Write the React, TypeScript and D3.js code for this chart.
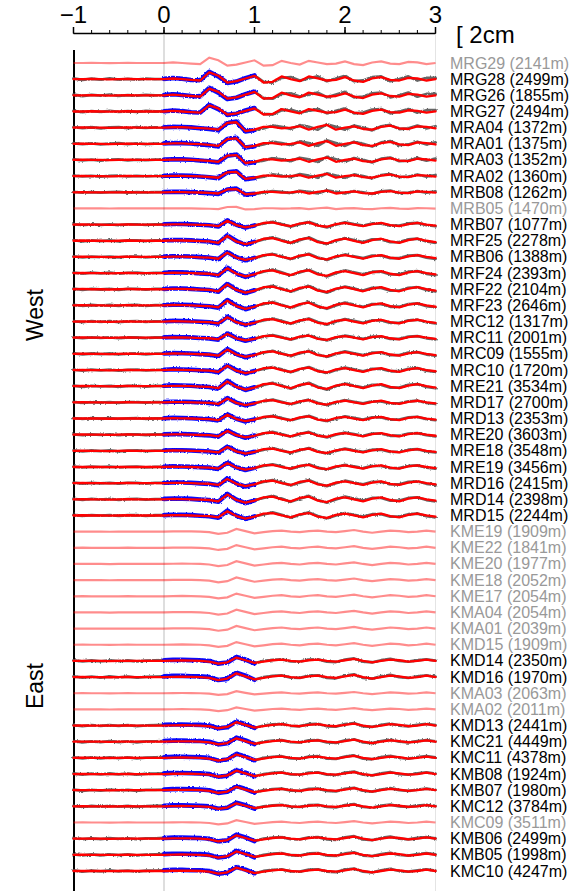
import React from "react";
import * as d3 from "d3";

// station list, top to bottom
const stations = [
  "MRG29", "MRG28", "MRG26", "MRG27", "MRA04", "MRA01", "MRA03", "MRA02", "MRB08", "MRB05",
  "MRB07", "MRF25", "MRB06", "MRF24", "MRF22", "MRF23", "MRC12", "MRC11", "MRC09", "MRC10",
  "MRE21", "MRD17", "MRD13", "MRE20", "MRE18", "MRE19", "MRD16", "MRD14", "MRD15",
  "KME19", "KME22", "KME20", "KME18", "KME17", "KMA04", "KMA01", "KMD15", "KMD14", "KMD16",
  "KMA03", "KMA02", "KMD13", "KMC21", "KMC11", "KMB08", "KMB07", "KMC12", "KMC09", "KMB06",
  "KMB05", "KMC10",
];
const distances = [
  2141, 2499, 1855, 2494, 1372, 1375, 1352, 1360, 1262, 1470,
  1077, 2278, 1388, 2393, 2104, 2646, 1317, 2001, 1555, 1720,
  3534, 2700, 2353, 3603, 3548, 3456, 2415, 2398, 2244,
  1909, 1841, 1977, 2052, 2054, 2054, 2039, 1909, 2350, 1970,
  2063, 2011, 2441, 4449, 4378, 1924, 1980, 3784, 3511, 2499,
  1998, 4247,
];
// waveform family of each station
const groups = [
  "G", "G", "G", "G", "A", "A", "A", "A", "A", "A",
  "F", "F", "F", "F", "F", "F", "F", "F", "F", "F",
  "F", "F", "F", "F", "F", "F", "F", "F", "F",
  "K", "K", "K", "K", "K", "K", "K", "K", "K", "K",
  "K", "K", "K", "K", "K", "K", "K", "K", "K", "K",
  "K", "K",
];
const amps = [
  0.8, 1.0, 1.0, 0.9, 1.0, 1.0, 0.9, 0.8, 0.6, 0.3,
  0.8, 1.0, 0.9, 1.0, 1.0, 1.0, 0.9, 0.8, 0.9, 0.9,
  1.0, 0.8, 0.8, 0.8, 0.8, 0.8, 0.9, 1.0, 0.9,
  0.8, 0.8, 0.8, 0.8, 0.8, 0.8, 0.8, 0.8, 1.0, 1.1,
  0.6, 0.6, 1.0, 1.0, 1.0, 1.0, 1.0, 0.9, 0.7, 1.0,
  1.0, 1.0,
];
// false = station not used in the inversion (drawn faded)
const used = [
  false, true, true, true, true, true, true, true, true, false,
  true, true, true, true, true, true, true, true, true, true,
  true, true, true, true, true, true, true, true, true,
  false, false, false, false, false, false, false, false, true, true,
  false, false, true, true, true, true, true, true, false, true,
  true, true,
];

// waveforms (mm), sampled every 0.1 s from -1 s to 3 s
const synG = [0, 0, 0.2, 0, -0.2, 0, 0.2, 0, 0, 0,
  0, 0.5, 0, -0.5, -1, 5, 2.5, -2.5, -1.5, 0.5, 2.5,
  -2.5, -2, 2, 0, -1.5, 2, 0.5, -1, -0.5, 1.5,
  -1, -2, 0.5, 1.5, -0.5, -1, 1, 0.5, -1, 0];
const obsG = [0.5, -0.5, 0.3, -0.3, 0.5, -0.4, 0.2, -0.3, 0.4, 0,
  0.2, 0.8, 0.3, -0.6, -0.8, 5.5, 2, -2.8, -1.8, 0.8, 2.8,
  -2, -2.5, 1, 1.5, -1, 0.5, 2, -1.5, 0.5, 2.5,
  -1.5, -1, 1.5, 2, -1.5, 0, 2, -1, 1, 1];
const synA = [0, 0.2, 0, 0, -0.2, 0, 0.2, 0, 0, 0,
  0, 0.3, 0.3, 0, -0.3, -0.8, -1.5, 3.5, 4, -2.5, -1.5,
  0.5, 0.5, -0.5, 0, 1, -1.5, 0.5, 2, -1.5, 0,
  1, -1, -1.5, 0.5, 1.5, -0.5, -1, 1, 0.5, -0.5];
const obsA = [0.4, -0.3, 0.3, -0.5, 0.2, 0.4, -0.3, 0.3, -0.2, 0.2,
  0.3, 0.6, 0.5, 0.2, -0.4, -1, -2, 3.5, 4.5, -2.8, -1.8,
  -0.5, 1.5, 0.5, -1, 1.8, 0.5, -1.5, 2.5, 0.5, -1.5,
  1.5, 0, -2, 1, 2, -1, -0.5, 1.5, -0.5, 1];
const synF = [0, 0.2, 0, 0, -0.2, 0, 0.2, 0, 0, 0,
  0, 0.3, 0.2, 0, -0.3, -0.5, -1.5, 3.5, -0.5, -2.5, -1,
  1.5, 2, 0, -1.5, 1, 2, -1, -2, 0.5, 1.5,
  0, -1.5, 0.5, 1.5, -0.5, -1.5, 0.5, 1.5, 0, -1];
const obsF = [0.4, -0.4, 0.3, -0.2, 0.3, -0.4, 0.2, 0.3, -0.3, 0.2,
  0.3, 0.6, 0.5, 0.3, -0.2, -0.6, -1.8, 4, -0.2, -2.8, -0.8,
  1, 2.5, 0.5, -1.8, 0.5, 2.5, -0.5, -2.5, 0, 2,
  0.5, -1, 1, 1, -1, -1, 1, 1.5, -0.5, -1.5];
const synK = [0, 0.1, 0, 0, -0.1, 0, 0.1, 0, 0, 0,
  0, 0.2, 0.3, 0.2, 0, -0.5, -2, -1, 2.5, 0.5, -1.5,
  -0.5, 0.5, 1, 0, -0.5, 0.5, 1, 0, -0.5, 0.5,
  1.5, 0, -1, 0, 1, 0.5, -0.5, 0, 1, 0];
const obsK = [0.4, -0.4, 0.3, -0.3, 0.4, -0.2, 0.3, -0.4, 0.2, 0.3,
  0.5, 0.8, 0.8, 0.6, 0.5, 0, -2, -1.2, 3, 1, -1.8,
  0, 0.8, 1.2, -0.3, -0.5, 1, 1.2, -0.5, -0.8, 1,
  1.8, -0.5, -1, 0.5, 1.5, 0, -0.5, 0.5, 1.2, 0.3];

const synth: Record<string, number[]> = { G: synG, A: synA, F: synF, K: synK };
const observed: Record<string, number[]> = { G: obsG, A: obsA, F: obsF, K: obsK };

const timeTicks = [-1, 0, 1, 2, 3];

export default function App() {
  const width = 582;
  const height = 891;
  const font = "'Liberation Sans', Arial, sans-serif";

  const times = d3.range(41).map((i) => -1 + i * 0.1);
  const x = d3.scaleLinear().domain([-1, 3]).range([73.5, 435.5]);
  const y = d3.scalePoint<string>().domain(stations).range([63, 871]);
  const amp = d3.scaleLinear().domain([0, 20]).range([0, 27]);
  const minor = d3.range(-1, 3.001, 0.2);

  const trace = (vals: number[], a: number, y0: number, from = 0, to = vals.length - 1) =>
    d3.line<number>()
      .x((_, i) => x(times[i + from]))
      .y((v) => y0 - amp(v * a))
      .curve(d3.curveLinear)(vals.slice(from, to + 1)) || "";

  return (
    <svg width={width} height={height} style={{ display: "block", position: "absolute", left: 0, top: 0, background: "#fff" }}>
      <defs>
        {/* jitter for the recorded (noisy) traces */}
        <filter id="noisy" x="-5%" y="-50%" width="110%" height="200%">
          <feTurbulence type="fractalNoise" baseFrequency="0.7 0.5" numOctaves={2} seed={3} result="n" />
          <feDisplacementMap in="SourceGraphic" in2="n" scale={2.6} xChannelSelector="R" yChannelSelector="G" result="d" />
          <feGaussianBlur in="d" stdDeviation={0.35} />
        </filter>
      </defs>

      {/* time axis */}
      <g fontFamily={font}>
        <line x1={x(-1)} x2={x(3)} y1={33.5} y2={33.5} stroke="#000" strokeWidth={1.5} />
        {minor.map((t, i) => (
          <line key={"m" + i} x1={x(t)} x2={x(t)} y1={33.5} y2={30} stroke="#000" strokeWidth={1} />
        ))}
        {timeTicks.map((t) => (
          <g key={t}>
            <line x1={x(t)} x2={x(t)} y1={33.5} y2={27} stroke="#000" strokeWidth={1.5} />
            <text x={x(t)} y={23} textAnchor="middle" fontSize={24}>
              {t < 0 ? "\u2212" + Math.abs(t) : t}
            </text>
          </g>
        ))}
        <text x={456} y={43} fontSize={24}>[ 2cm</text>
      </g>

      {/* frame lines */}
      <line x1={x(0)} x2={x(0)} y1={35} y2={height} stroke="#c8c8c8" strokeWidth={1.2} />
      <line x1={x(3)} x2={x(3)} y1={35} y2={height} stroke="#e4e4e4" strokeWidth={1} />
      <line x1={74} x2={74} y1={50} y2={height} stroke="#000" strokeWidth={2} />

      {/* waveforms */}
      {stations.map((s, k) => {
        const y0 = y(s)!;
        const syn = synth[groups[k]];
        const obs = observed[groups[k]];
        const a = amps[k];
        if (!used[k]) {
          return (
            <path key={s} d={trace(syn, a, y0)} fill="none" stroke="#ff0000" strokeOpacity={0.45} strokeWidth={2.2} />
          );
        }
        return (
          <g key={s} fill="none" strokeLinejoin="round" strokeLinecap="round">
            <path d={trace(obs, a, y0)} stroke="#555" strokeOpacity={0.9} strokeWidth={2.8} filter="url(#noisy)" />
            <path d={trace(obs, a, y0, 10, 20)} stroke="#0000ff" strokeOpacity={0.95} strokeWidth={4.6} filter="url(#noisy)" />
            <path d={trace(syn, a, y0)} stroke="#ff0000" strokeWidth={2.3} />
          </g>
        );
      })}

      {/* station labels */}
      <g fontFamily={font} fontSize={16}>
        {stations.map((s, k) => (
          <text key={s} x={450} y={y(s)! + 5.5} fill={used[k] ? "#000" : "#999"}>
            {s} ({distances[k]}m)
          </text>
        ))}
      </g>

      <g fontFamily={font} fontSize={23}>
        <text transform="translate(43,315) rotate(-90)" textAnchor="middle">West</text>
        <text transform="translate(43,686) rotate(-90)" textAnchor="middle">East</text>
      </g>
    </svg>
  );
}
